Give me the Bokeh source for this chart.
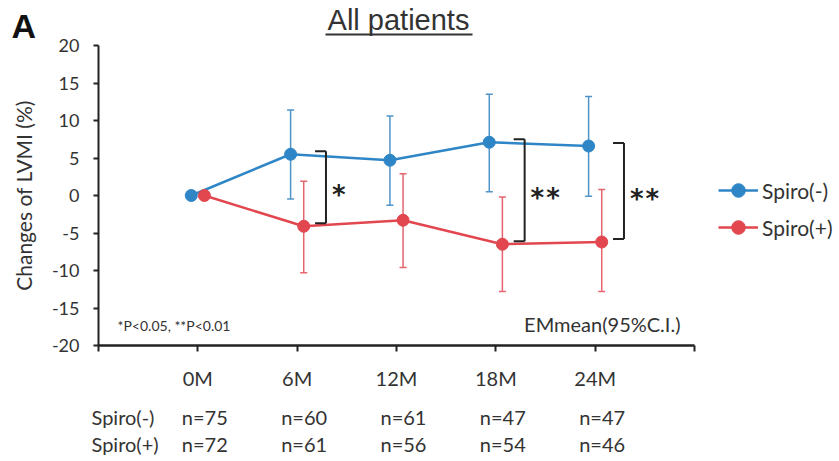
import math
from bokeh.plotting import figure
from bokeh.models import (Range1d, FixedTicker, Whisker, ColumnDataSource, TeeHead,
                          Legend, LegendItem, Label)
from bokeh.embed import file_html
from bokeh.resources import INLINE

# ---------------- data ----------------
months = ["0M", "6M", "12M", "18M", "24M"]
spiro_neg_mean = [0.0, 5.5, 4.7, 7.1, 6.6]
spiro_neg_lower = [0.0, -0.45, -1.3, 0.5, -0.1]
spiro_neg_upper = [0.0, 11.4, 10.6, 13.5, 13.2]
spiro_pos_mean = [0.0, -4.1, -3.3, -6.5, -6.2]
spiro_pos_lower = [0.0, -10.3, -9.6, -12.8, -12.8]
spiro_pos_upper = [0.0, 1.9, 2.9, -0.2, 0.8]
spiro_neg_n = [75, 60, 61, 47, 47]
spiro_pos_n = [72, 61, 56, 54, 46]
sig_index = [1, 3, 4]
sig_labels = ["*", "**", "**"]
y_ticks = [-20, -15, -10, -5, 0, 5, 10, 15, 20]

# ---------------- style ----------------
BLUE = "#2f86c6"
RED = "#e2474f"
BLUE_ERR = "#4f94c8"
RED_ERR = "#e4656d"
TXT = "#333333"
FONT = "Lato"
DODGE = 0.066

# canvas and axis geometry (page pixels)
W, H = 839, 461
AX_L, AX_R, AX_T, AX_B = 98, 694, 45, 345
XMIN, XMAX, YMIN, YMAX = -1, 5, -20, 20
SX = (AX_R - AX_L) / (XMAX - XMIN)
SY = (AX_B - AX_T) / (YMAX - YMIN)
X0 = XMIN - AX_L / SX
X1 = XMAX + (W - AX_R) / SX
Y1 = YMAX + AX_T / SY
Y0 = YMIN - (H - AX_B) / SY


def px2x(px):
    return X0 + px / SX


def px2y(py):
    return Y1 - py / SY


p = figure(width=W, height=H, output_backend="svg", toolbar_location=None,
           x_range=Range1d(X0, X1), y_range=Range1d(Y0, Y1),
           min_border=0, min_border_left=0, min_border_right=0,
           min_border_top=0, min_border_bottom=0)
p.grid.visible = False
p.outline_line_color = None
p.background_fill_color = "white"
p.border_fill_color = "white"

# axes
ax = p.xaxis[0]
ax.fixed_location = YMIN
ax.bounds = (XMIN, XMAX)
ax.ticker = FixedTicker(ticks=list(range(XMIN, XMAX + 1)))
overrides = {XMIN: "", XMAX: ""}
overrides.update({i: m for i, m in enumerate(months)})
ax.major_label_overrides = overrides
ax.axis_line_width = 2.5
ax.axis_line_color = "#222222"
ax.major_tick_line_color = "#222222"
ax.major_tick_line_width = 2
ax.major_tick_out = 6
ax.major_tick_in = 0
ax.minor_tick_line_color = None
ax.major_label_standoff = 14
ax.major_label_text_font = FONT
ax.major_label_text_font_size = "20px"
ax.major_label_text_color = TXT

ay = p.yaxis[0]
ay.fixed_location = XMIN
ay.bounds = (YMIN, YMAX)
ay.ticker = FixedTicker(ticks=y_ticks)
ay.major_label_overrides = {t: str(t) for t in y_ticks}
ay.axis_line_width = 2
ay.axis_line_color = "#222222"
ay.major_tick_line_color = "#222222"
ay.major_tick_line_width = 2
ay.major_tick_out = 5
ay.major_tick_in = 0
ay.minor_tick_line_color = None
ay.major_label_standoff = 14
ay.major_label_text_font = FONT
ay.major_label_text_font_size = "18px"
ay.major_label_text_color = TXT

p.add_layout(Label(x=px2x(23), y=px2y(195), text="Changes of LVMI (%)", angle=math.pi / 2,
                   text_font=FONT, text_font_size="21px", text_align="center",
                   text_baseline="middle", text_color=TXT))

x_neg = [i - DODGE for i in range(len(months))]
x_pos = [i + DODGE for i in range(len(months))]

src_neg = ColumnDataSource(dict(x=x_neg, y=spiro_neg_mean, lo=spiro_neg_lower, hi=spiro_neg_upper))
src_pos = ColumnDataSource(dict(x=x_pos, y=spiro_pos_mean, lo=spiro_pos_lower, hi=spiro_pos_upper))

for src, col in ((src_neg, BLUE_ERR), (src_pos, RED_ERR)):
    w = Whisker(source=src, base="x", lower="lo", upper="hi", dimension="height",
                line_color=col, line_width=1.5, level="underlay",
                upper_head=TeeHead(size=7, line_color=col, line_width=1.5),
                lower_head=TeeHead(size=7, line_color=col, line_width=1.5))
    p.add_layout(w)

ln_neg = p.line("x", "y", source=src_neg, line_color=BLUE, line_width=2.5)
ln_pos = p.line("x", "y", source=src_pos, line_color=RED, line_width=2.5)
sc_neg = p.scatter("x", "y", source=src_neg, size=12, fill_color=BLUE, line_color=BLUE)
sc_pos = p.scatter("x", "y", source=src_pos, size=12, fill_color=RED, line_color=RED)

# significance brackets
BR_DX = 0.29
BR_TICK = 0.11
BR_PAD = 0.4
bx0, by0, bx1, by1 = [], [], [], []
for k, i in enumerate(sig_index):
    xb = i + BR_DX
    top = spiro_neg_mean[i] + BR_PAD
    bot = spiro_pos_mean[i] + BR_PAD
    bx0 += [xb, xb - BR_TICK, xb - BR_TICK]
    by0 += [top, top, bot]
    bx1 += [xb, xb, xb]
    by1 += [bot, top, bot]
    p.add_layout(Label(x=xb + 0.05, y=(top + bot) / 2, text=sig_labels[k],
                       text_font="DejaVu Sans Mono", text_font_style="bold",
                       text_font_size="26px", text_align="left",
                       text_baseline="middle", y_offset=-8, text_color="#222222"))
p.segment(bx0, by0, bx1, by1, line_color="#222222", line_width=2)

# legend
legend = Legend(items=[LegendItem(label="Spiro(-)", renderers=[ln_neg, sc_neg]),
                       LegendItem(label="Spiro(+)", renderers=[ln_pos, sc_pos])],
                location=(718, H - 244), padding=0, margin=0, spacing=3,
                glyph_width=40, glyph_height=34, label_height=34, label_standoff=4,
                label_text_font=FONT, label_text_font_size="21px",
                label_text_color=TXT, border_line_color=None,
                background_fill_alpha=0)
p.add_layout(legend)

# texts
p.add_layout(Label(x=px2x(117), y=px2y(325), text="*P<0.05, **P<0.01",
                   text_font=FONT, text_font_size="14px", text_baseline="middle",
                   text_align="left", text_color=TXT))
p.add_layout(Label(x=px2x(680), y=px2y(323), text="EMmean(95%C.I.)",
                   text_font=FONT, text_font_size="20px", text_baseline="middle",
                   text_align="right", text_color=TXT))
p.add_layout(Label(x=px2x(398), y=px2y(19), text="All patients",
                   text_font="Liberation Sans", text_font_size="29px",
                   text_baseline="middle", text_align="center", text_color=TXT))
p.segment(x0=[px2x(325)], y0=[px2y(34)], x1=[px2x(472)], y1=[px2y(34)],
          line_color=TXT, line_width=2)
p.add_layout(Label(x=px2x(11), y=px2y(25), text="A",
                   text_font="Liberation Sans", text_font_style="bold",
                   text_font_size="34px", text_baseline="middle", text_align="left",
                   text_color="#111111"))

# n rows
for row_label, counts, py in (("Spiro(-)", spiro_neg_n, 416), ("Spiro(+)", spiro_pos_n, 443)):
    p.add_layout(Label(x=px2x(91), y=px2y(py), text=row_label, text_font=FONT,
                       text_font_size="20px", text_baseline="middle",
                       text_align="left", text_color=TXT))
    for i, n in enumerate(counts):
        p.add_layout(Label(x=i + 0.07, y=px2y(py), text=f"n={n}", text_font=FONT,
                           text_font_size="20px", text_baseline="middle",
                           text_align="center", text_color=TXT))

open("out.html", "w").write(file_html(p, INLINE))
